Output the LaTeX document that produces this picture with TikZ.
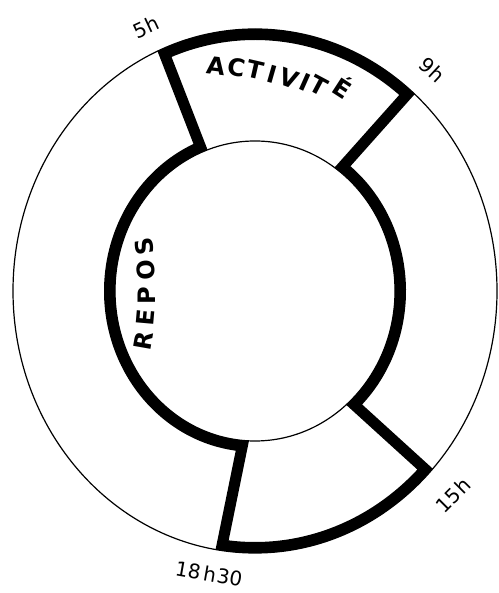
\documentclass[tikz,border=0pt]{standalone}
\usepackage{fontspec}
\setmainfont{DejaVu Sans}
\usetikzlibrary{calc}
\begin{document}
\begin{tikzpicture}[x=1pt,y=1pt,
  thinring/.style={line width=1.2pt},
  thickring/.style={line width=11pt, line join=miter},
  bigletter/.style={font=\fontsize{24}{24}\selectfont\bfseries, inner sep=0pt, text height=17.5pt, text depth=0pt},
  hour/.style={font=\fontsize{20}{20}\selectfont, inner sep=0pt}]
\useasboundingbox (0,0) rectangle (498,593);
\coordinate (C) at (255,302);
% thin ellipses
\draw[thinring] (C) ellipse [x radius=242pt, y radius=262pt];
\draw[thinring] (C) ellipse [x radius=140pt, y radius=150pt];
% spoke end points
\coordinate (i1830) at ($(C)+(265:145.5pt and 155.5pt)$);
\coordinate (o5)    at ($(C)+(112.5:236.5pt and 256.5pt)$);
\coordinate (i9)    at ($(C)+(53:145.5pt and 155.5pt)$);
\coordinate (o15)   at ($(C)+(-44:236.5pt and 256.5pt)$);
% thick closed outline
\draw[thickring] (i1830) arc[start angle=265, end angle=112, x radius=145.5pt, y radius=155.5pt]
  -- (o5) arc[start angle=112.5, end angle=50, x radius=236.5pt, y radius=256.5pt]
  -- (i9) arc[start angle=53, end angle=-47, x radius=145.5pt, y radius=155.5pt]
  -- (o15) arc[start angle=-44, end angle=-98, x radius=236.5pt, y radius=256.5pt]
  -- cycle;
% hour labels
\node[hour, rotate=25]  (h5)    at (146,566) {5\kern1pt h};
\node[hour, rotate=-43] (h9)    at (432,523) {9\kern1pt h};
\node[hour, rotate=45]  (h15)   at (453,98)  {15\kern1pt h};
\node[hour, rotate=-10] (h1830) at (209,19)  {18\kern3pt h\kern1pt 30};
% ACTIVITÉ
\foreach \ch/\x/\y/\r [count=\k] in {A/216/527/-7, C/237/526/-10, T/255/523/-13, I/272/519/-16, V/289/515/-20, I/305/511/-24, T/319/507/-28, É/342/504/-33}
  \node[bigletter, rotate=\r] (act\k) at (\x,\y) {\ch};
% REPOS
\foreach \ch/\x/\y/\r [count=\k] in {R/143/252/80, E/145/275/85, P/147/297/90, O/146/323/95, S/144/346/100}
  \node[bigletter, rotate=\r] (rep\k) at (\x,\y) {\ch};
\end{tikzpicture}
\end{document}
